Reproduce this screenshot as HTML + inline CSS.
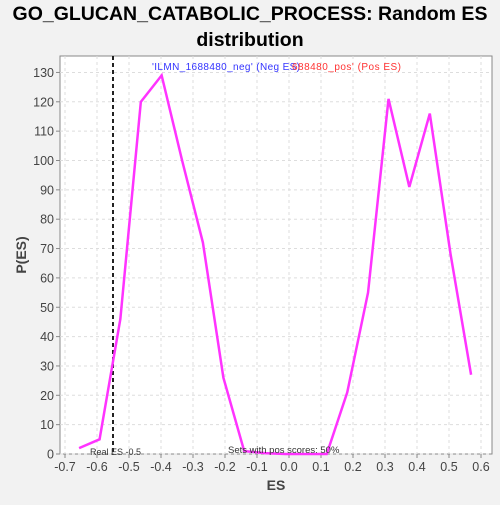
<!DOCTYPE html>
<html><head><meta charset="utf-8"><style>
body{margin:0;background:#f2f2f2;font-family:"Liberation Sans",sans-serif;}
</style></head><body>
<svg width="500" height="500" font-family="Liberation Sans, sans-serif">
<rect width="500" height="500" fill="#f2f2f2"/>
<text x="250" y="20" text-anchor="middle" font-size="19.5" font-weight="bold" fill="#000">GO_GLUCAN_CATABOLIC_PROCESS: Random ES</text>
<text x="250" y="46" text-anchor="middle" font-size="19.5" font-weight="bold" fill="#000">distribution</text>
<rect x="60" y="56" width="432" height="398" fill="#fff" stroke="#888"/>
<g id="grid"></g><g id="axes"></g><g id="marks"></g>
<text x="276" y="490" text-anchor="middle" font-size="14" font-weight="bold" fill="#444">ES</text>
<text transform="translate(26,255) rotate(-90)" text-anchor="middle" font-size="14" font-weight="bold" fill="#444">P(ES)</text>
<text x="152" y="70" font-size="10" textLength="148" fill="#3333ff">'ILMN_1688480_neg' (Neg ES)</text>
<text x="292" y="70" font-size="10" textLength="109" fill="#ff3333">688480_pos' (Pos ES)</text>
<text x="90" y="455" font-size="9" fill="#333">Real ES -0.5</text>
<text x="228" y="453" font-size="9.5" fill="#333">Sets with pos scores: 50%</text>
</svg>
<script>
const xTicks=[-0.7,-0.6,-0.5,-0.4,-0.3,-0.2,-0.1,0.0,0.1,0.2,0.3,0.4,0.5,0.6];
const yTicks=[0,10,20,30,40,50,60,70,80,90,100,110,120,130];
const esValues=[-0.656,-0.592,-0.527,-0.463,-0.398,-0.334,-0.269,-0.205,-0.140,-0.076,-0.011,0.053,0.118,0.182,0.247,0.311,0.376,0.440,0.505,0.569];
const densities=[2,5,46,120,129,100,72,26,1,0.3,0,0,0,21,55,121,91,116,68,27];
const realES=[-0.55];
const NS="http://www.w3.org/2000/svg";
const X=v=>289+v*320, Y=v=>454-v*2.935;
function mk(t,a,p){const e=document.createElementNS(NS,t);for(const k in a)e.setAttribute(k,a[k]);document.getElementById(p).appendChild(e);return e;}
xTicks.forEach(t=>{
 const g=mk('line',{x1:X(t),x2:X(t),y1:56,y2:454,stroke:'#ddd','stroke-dasharray':'3,3'},'grid');
 
 
 const k=mk('line',{x1:X(t),x2:X(t),y1:454,y2:458,stroke:'#888'},'axes');
 
 
 const l=mk('text',{x:X(t),y:471,'text-anchor':'middle','font-size':12.5,fill:'#444'},'axes');
 l.textContent=t.toFixed(1);
 
 
});
yTicks.forEach(t=>{
 const g=mk('line',{x1:60,x2:492,y1:Y(t),y2:Y(t),stroke:'#ddd','stroke-dasharray':'3,3'},'grid');
 
 
 const k=mk('line',{x1:56,x2:60,y1:Y(t),y2:Y(t),stroke:'#888'},'axes');
 
 
 const l=mk('text',{x:54,y:Y(t)+4.5,'text-anchor':'end','font-size':12.5,fill:'#444'},'axes');
 l.textContent=t;
 
 
});
const rl=mk('line',{x1:X(realES[0]),x2:X(realES[0]),y1:56,y2:454,stroke:'#222','stroke-width':2,'stroke-dasharray':'4,3'},'marks');


const pl=mk('polyline',{points:esValues.map((v,i)=>X(v)+','+Y(densities[i])).join(' '),fill:'none',stroke:'#ff33ff','stroke-width':2.5},'marks');


</script>
</body></html>
